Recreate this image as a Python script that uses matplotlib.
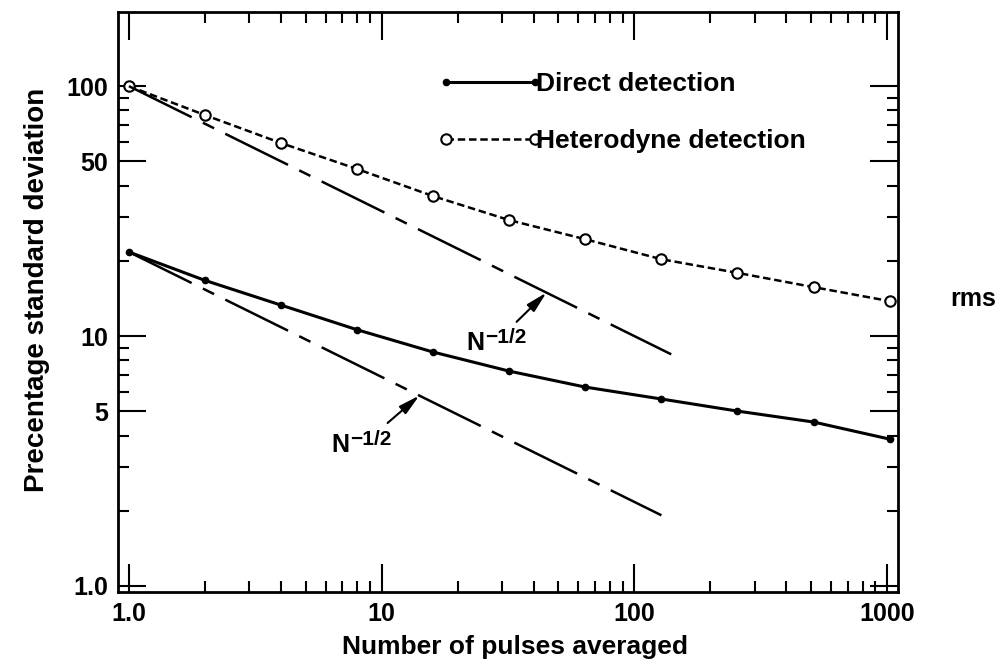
import numpy as np
import matplotlib
matplotlib.use('Agg')
import matplotlib.pyplot as plt
from matplotlib.ticker import FixedLocator, FixedFormatter, LogLocator, NullFormatter

plt.rcParams['font.family'] = ['Liberation Sans', 'DejaVu Sans']
plt.rcParams['font.weight'] = 'bold'

# pulses averaged (powers of two)
n_pulses = [1, 2, 4, 8, 16, 32, 64, 128, 256, 512, 1024]
direct = [21.7, 16.7, 13.3, 10.6, 8.63, 7.24, 6.25, 5.60, 5.01, 4.53, 3.87]
heterodyne = [100, 76.6, 59.2, 46.6, 36.3, 29.1, 24.4, 20.3, 17.9, 15.7, 13.8]

# N^-1/2 reference lines: value at N=1 and last N
ref_upper = (100.0, 140)
ref_lower = (21.7, 128)

xticks = [1, 10, 100, 1000]
xticklabels = ['1.0', '10', '100', '1000']
yticks = [1, 5, 10, 50, 100]
yticklabels = ['1.0', '5', '10', '50', '100']

fig = plt.figure(figsize=(10.03, 6.6), dpi=100)
ax = fig.add_axes([0.1176, 0.1030, 0.7777, 0.8788])

ax.plot(n_pulses, direct, '-', color='black', lw=2.2, marker='o', ms=4.5,
        mfc='black', label='Direct detection')
ax.plot(n_pulses, heterodyne, color='black', lw=1.8, dashes=(3, 1.5),
        marker='o', ms=7.5, mfc='white', mec='black', mew=1.5,
        label='Heterodyne detection')

for a0, nend in (ref_upper, ref_lower):
    nn = np.logspace(0, np.log10(nend), 100)
    ax.plot(nn, a0 / np.sqrt(nn), color='black', lw=1.8,
            dashes=(28, 5, 5, 5))


def n_label(x, y, tip, start):
    # "N" with a raised -1/2 exponent and an arrow to the line
    t = ax.text(x, y, 'N', fontsize=18, ha='left', va='baseline')
    ax.annotate('\u22121/2', xy=(1, 0), xycoords=t, xytext=(0.5, 8.5),
                textcoords='offset points', fontsize=15, ha='left',
                va='baseline')
    ax.annotate('', xy=tip, xytext=start,
                arrowprops=dict(arrowstyle='-|>,head_length=0.9,head_width=0.22',
                                color='black', lw=1.5, mutation_scale=14,
                                shrinkA=0, shrinkB=0))


n_label(21.7, 8.79, (44.9, ref_upper[0] / np.sqrt(44.9)), (34.2, 11.4))
n_label(6.35, 3.44, (14.1, ref_lower[0] / np.sqrt(14.1)), (10.56, 4.49))

ax.set_xscale('log')
ax.set_yscale('log')
ax.set_xlim(0.905, 1105)
ax.set_ylim(0.946, 198)

ax.xaxis.set_major_locator(FixedLocator(xticks))
ax.xaxis.set_major_formatter(FixedFormatter(xticklabels))
ax.yaxis.set_major_locator(FixedLocator(yticks))
ax.yaxis.set_major_formatter(FixedFormatter(yticklabels))
for axis in (ax.xaxis, ax.yaxis):
    axis.set_minor_locator(LogLocator(base=10, subs=np.arange(2, 10), numticks=20))
    axis.set_minor_formatter(NullFormatter())

ax.tick_params(which='both', direction='in', top=True, right=True,
               labelsize=18, width=1.5)
ax.tick_params(which='major', length=20, pad=7)
ax.tick_params(which='minor', length=8)
for s in ax.spines.values():
    s.set_linewidth(2)

ax.set_xlabel('Number of pulses averaged', fontsize=19, fontweight='bold')
ax.set_ylabel('Precentage standard deviation', fontsize=20, fontweight='bold')
ax.xaxis.set_label_coords(0.509, -0.074)
ax.yaxis.set_label_coords(-0.087, 0.521)

ax.legend(loc='upper left', bbox_to_anchor=(0.410, 0.897), frameon=False,
          numpoints=2, handlelength=3.97, handletextpad=-0.23,
          labelspacing=1.25, fontsize=19, borderpad=0, borderaxespad=0)

fig.text(0.947, 0.547, 'rms', fontsize=18, fontweight='bold',
         ha='left', va='center')

fig.savefig('out.png', dpi=100)
